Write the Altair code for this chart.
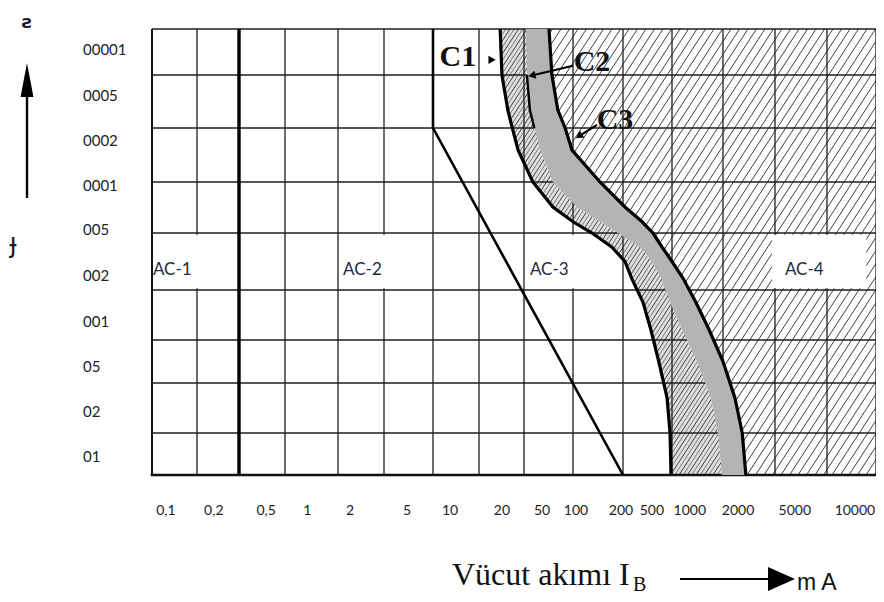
import altair as alt
import pandas as pd

W, H = 724, 446

# grid lines (column / row index units) and where they sit in the drawing
grid_cols = list(range(16))
grid_rows = list(range(10))
col_edges = [0, 45, 87, 133, 186, 232, 281, 327, 372, 421, 471, 520, 571, 623, 675, 724]
row_edges = [446, 404, 354, 311, 261, 204, 153, 99, 46, 0]

# zone boundary curves, read in grid units
curve_rows = [9, 8, 7.34, 7, 6.59, 6, 5.51, 5.22, 5.0, 4.75, 4.5, 4.2, 3.75, 3.2, 2.5, 1.7, 1.0, 0]
c1_x = [7.47, 7.51, 7.64, 7.74, 7.87, 8.18, 8.59, 9.0, 9.38, 9.78, 10.04, 10.18, 10.41, 10.57, 10.73, 10.9, 10.96, 10.98]
c2_x = [8.04, 8.06, 8.12, 8.21, 8.33, 8.59, 9.08, 9.54, 9.9, 10.35, 10.59, 10.78, 10.96, 11.2, 11.49, 11.76, 11.9, 11.98]
c3_x = [8.51, 8.57, 8.69, 8.84, 8.98, 9.54, 10.04, 10.39, 10.61, 10.8, 11.0, 11.22, 11.47, 11.73, 12.0, 12.23, 12.37, 12.44]

# AC-1 / AC-2 boundary (a) and AC-2 / AC-3 boundary (b)
a_x = [2, 2]
a_y = [0, 9]
b_x = [6, 6, 10]
b_y = [9, 7, 0]

# tick labels
y_labels = ["01", "02", "05", "001", "002", "005", "0001", "0002", "0005", "00001"]
y_label_pos = [0.42, 1.42, 2.37, 3.36, 4.25, 5.06, 5.92, 6.76, 7.60, 8.54]
x_labels = ["0,1", "0,2", "0,5", "1", "2", "5", "10", "20", "50", "100", "200", "500",
            "1000", "2000", "5000", "10000"]
x_label_pos = [0.31, 1.40, 2.59, 3.42, 4.26, 5.47, 6.37, 7.51, 8.37, 9.06, 9.96, 10.59,
               11.35, 12.29, 13.38, 14.57]

# zone labels
zone_labels = ["AC-1", "AC-2", "AC-3", "AC-4"]
zone_x = [0.02, 4.11, 8.12, 13.19]
zone_y = [4.35, 4.35, 4.35, 4.35]
box_x0 = [0.03, 4.04, 8.02, 12.94]
box_x1 = [1.93, 5.57, 9.30, 14.8]
box_y0 = [4.03, 4.03, 4.03, 4.03]
box_y1 = [4.97, 4.97, 4.97, 4.97]

# curve annotations
c_labels = ["C1", "C2", "C3"]
c_label_x = [6.54, 9.38, 9.84]
c_label_y = [8.39, 8.28, 7.15]
arrow_x0 = [9.0, 9.48]
arrow_y0 = [8.2, 7.06]
arrow_x1 = [8.16, 9.12]
arrow_y1 = [7.99, 6.85]
head_x = [7.29, 8.16, 9.12]
head_y = [8.33, 7.99, 6.85]
head_angle = [0, 167, 146]

xs = alt.Scale(domain=grid_cols, range=col_edges, zero=False, nice=False)
ys = alt.Scale(domain=grid_rows, range=row_edges, zero=False, nice=False)
hxs = alt.Scale(domain=[0, W], range=[0, W], zero=False, nice=False)
hys = alt.Scale(domain=[0, H], range=[H, 0], zero=False, nice=False)


def X(f):
    return alt.X(f, type="quantitative", scale=xs, axis=None)


def Y(f):
    return alt.Y(f, type="quantitative", scale=ys, axis=None)


n = len(curve_rows)
curves = pd.DataFrame({"row": curve_rows, "c1": c1_x, "c2": c2_x, "c3": c3_x, "idx": list(range(n))})

SP = 8.5   # hatch spacing
DX = 290   # hatch horizontal run over the full height


def hatch(offset, color, width):
    return alt.Chart(alt.sequence(-45, 95, 1, as_="i")).transform_calculate(
        hx=f"datum.i * {SP} + {offset}",
        hx2=f"datum.i * {SP} + {offset} + {DX}",
        hy="0",
        hy2=str(H),
    ).mark_rule(clip=True, color=color, strokeWidth=width).encode(
        x=alt.X("hx:Q", scale=hxs, axis=None),
        x2="hx2:Q",
        y=alt.Y("hy:Q", scale=hys, axis=None),
        y2="hy2:Q",
    )


underlay = alt.Chart(curves).mark_area(orient="horizontal", color="#dedede").encode(
    y=Y("row"), x=X("c1"), x2=alt.X2("c2"))
dense_hatch = hatch(SP / 2, "#6e6e6e", 0.9)
mask_right = alt.Chart(curves).transform_calculate(right="15").mark_area(
    orient="horizontal", color="white").encode(y=Y("row"), x=X("c3"), x2=alt.X2("right"))
sparse_hatch = hatch(0, "#2a2a2a", 0.9)
mask_left = alt.Chart(curves).transform_calculate(left="0").mark_area(
    orient="horizontal", color="white").encode(y=Y("row"), x=X("left"), x2=alt.X2("c1"))

vgrid = alt.Chart(pd.DataFrame({"c": grid_cols})).transform_calculate(r0="0", r1="9").mark_rule(
    color="#1e1e1e", strokeWidth=1.3).encode(x=X("c"), y=Y("r0"), y2=alt.Y2("r1"))
hgrid = alt.Chart(pd.DataFrame({"r": grid_rows})).transform_calculate(k0="0", k1="15").mark_rule(
    color="#1e1e1e", strokeWidth=1.3).encode(y=Y("r"), x=X("k0"), x2=alt.X2("k1"))
bottom_border = alt.Chart(pd.DataFrame({"r": [grid_rows[0]]})).transform_calculate(k0="0", k1="15").mark_rule(
    color="#111", strokeWidth=2.6, strokeCap="square").encode(y=Y("r"), x=X("k0"), x2=alt.X2("k1"))
left_border = alt.Chart(pd.DataFrame({"c": [grid_cols[0]]})).transform_calculate(r0="0", r1="9").mark_rule(
    color="#111", strokeWidth=2).encode(x=X("c"), y=Y("r0"), y2=alt.Y2("r1"))

gray_band = alt.Chart(curves).mark_area(orient="horizontal", color="#b4b4b4").encode(
    y=Y("row"), x=X("c2"), x2=alt.X2("c3"))

boxes = alt.Chart(pd.DataFrame({"x0": box_x0, "x1": box_x1, "y0": box_y0, "y1": box_y1})).mark_rect(
    color="white").encode(x=X("x0"), x2=alt.X2("x1"), y=Y("y0"), y2=alt.Y2("y1"))

line_c1 = alt.Chart(curves).mark_line(color="black", strokeWidth=3.2).encode(
    x=X("c1"), y=Y("row"), order="idx:Q")
line_c3 = alt.Chart(curves).mark_line(color="black", strokeWidth=3.2).encode(
    x=X("c3"), y=Y("row"), order="idx:Q")
line_c2 = alt.Chart(curves).transform_filter("datum.row >= 7 && datum.row <= 8").mark_line(
    color="black", strokeWidth=2.4).encode(x=X("c2"), y=Y("row"), order="idx:Q")
line_a = alt.Chart(pd.DataFrame({"x": a_x, "y": a_y})).mark_line(color="black", strokeWidth=3.4).encode(
    x=X("x"), y=Y("y"))
line_b = alt.Chart(pd.DataFrame({"x": b_x, "y": b_y, "o": [0, 1, 2]})).mark_line(
    color="black", strokeWidth=2.6).encode(x=X("x"), y=Y("y"), order="o:Q")

zone_text = alt.Chart(pd.DataFrame({"t": zone_labels, "x": zone_x, "y": zone_y})).mark_text(
    align="left", baseline="middle", font="Lato", fontSize=17, color="#1f2a44").encode(
    x=X("x"), y=Y("y"), text="t:N")

c_text = alt.Chart(pd.DataFrame({"t": c_labels, "x": c_label_x, "y": c_label_y})).mark_text(
    align="center", baseline="middle", font="Liberation Serif", fontWeight="bold", fontSize=30,
    color="#111").encode(x=X("x"), y=Y("y"), text="t:N")
c_arrows = alt.Chart(pd.DataFrame({"x0": arrow_x0, "y0": arrow_y0, "x1": arrow_x1, "y1": arrow_y1})).mark_rule(
    color="black", strokeWidth=2.2).encode(x=X("x0"), y=Y("y0"), x2=alt.X2("x1"), y2=alt.Y2("y1"))
c_heads = alt.Chart(pd.DataFrame({"x": head_x, "y": head_y, "a": head_angle})).mark_point(
    shape="triangle-right", filled=True, size=70, color="black", opacity=1).encode(
    x=X("x"), y=Y("y"), angle=alt.Angle("a:Q", scale=None))

y_ticks = alt.Chart(pd.DataFrame({"t": y_labels, "p": y_label_pos})).mark_text(
    align="left", baseline="middle", font="Lato", fontSize=15, color="#222").encode(
    x=alt.value(-69), y=Y("p"), text="t:N")
x_ticks = alt.Chart(pd.DataFrame({"t": x_labels, "p": x_label_pos})).mark_text(
    align="center", baseline="middle", font="Lato", fontSize=14, color="#222").encode(
    x=X("p"), y=alt.value(482), text="t:N")

title_main = alt.Chart(pd.DataFrame({"t": ["Vücut akımı I"]})).mark_text(
    align="left", baseline="alphabetic", font="Liberation Serif", fontSize=32, color="#111").encode(
    x=alt.value(300), y=alt.value(556), text="t:N")
title_sub = alt.Chart(pd.DataFrame({"t": ["B"]})).mark_text(
    align="left", baseline="alphabetic", font="Liberation Serif", fontSize=20, color="#111").encode(
    x=alt.value(481), y=alt.value(562), text="t:N")
unit_text = alt.Chart(pd.DataFrame({"t": ["m A"]})).mark_text(
    align="left", baseline="alphabetic", font="Liberation Sans", fontSize=23, color="#111").encode(
    x=alt.value(645), y=alt.value(561), text="t:N")
x_arrow = alt.Chart(pd.DataFrame({"k": [1]})).mark_rule(color="black", strokeWidth=2.2).encode(
    x=alt.value(528), x2=alt.value(620), y=alt.value(550))
x_head = alt.Chart(pd.DataFrame({"k": [1]})).mark_point(
    shape="M1,0L-1,-0.89L-1,0.89Z", filled=True, size=729, color="black", opacity=1, strokeWidth=0).encode(
    x=alt.value(629.5), y=alt.value(550))

y_unit = alt.Chart(pd.DataFrame({"t": ["ƨ"]})).mark_text(
    align="center", baseline="alphabetic", font="DejaVu Sans", fontWeight="bold", fontSize=18, color="#1a1a2e").encode(
    x=alt.value(-125), y=alt.value(-1), text="t:N")
y_sym = alt.Chart(pd.DataFrame({"t": ["ɟ"]})).mark_text(
    align="center", baseline="middle", font="DejaVu Sans", fontSize=26, color="#1a1a2e").encode(
    x=alt.value(-139), y=alt.value(215), text="t:N")
y_arrow = alt.Chart(pd.DataFrame({"k": [1]})).mark_rule(color="black", strokeWidth=2.4).encode(
    x=alt.value(-125), y=alt.value(169), y2=alt.value(66))
y_head = alt.Chart(pd.DataFrame({"k": [1]})).mark_point(
    shape="M0,-1L0.38,1L-0.38,1Z", filled=True, size=1156, color="black", opacity=1, strokeWidth=0).encode(
    x=alt.value(-125), y=alt.value(51))

chart = alt.layer(
    underlay, dense_hatch, mask_right, sparse_hatch, mask_left,
    vgrid, hgrid, bottom_border, left_border,
    gray_band, boxes,
    line_a, line_b, line_c1, line_c3, line_c2,
    zone_text, c_arrows, c_heads, c_text,
    y_ticks, x_ticks, title_main, title_sub, unit_text, x_arrow, x_head,
    y_unit, y_sym, y_arrow, y_head,
).resolve_scale(x="independent", y="independent").properties(
    width=W, height=H,
    padding={"left": 144, "top": 21, "right": 0, "bottom": 119},
    autosize=alt.AutoSizeParams(type="none"),
).configure_view(strokeWidth=0)

chart.save("out.html", embed_options={"renderer": "svg", "actions": False})
